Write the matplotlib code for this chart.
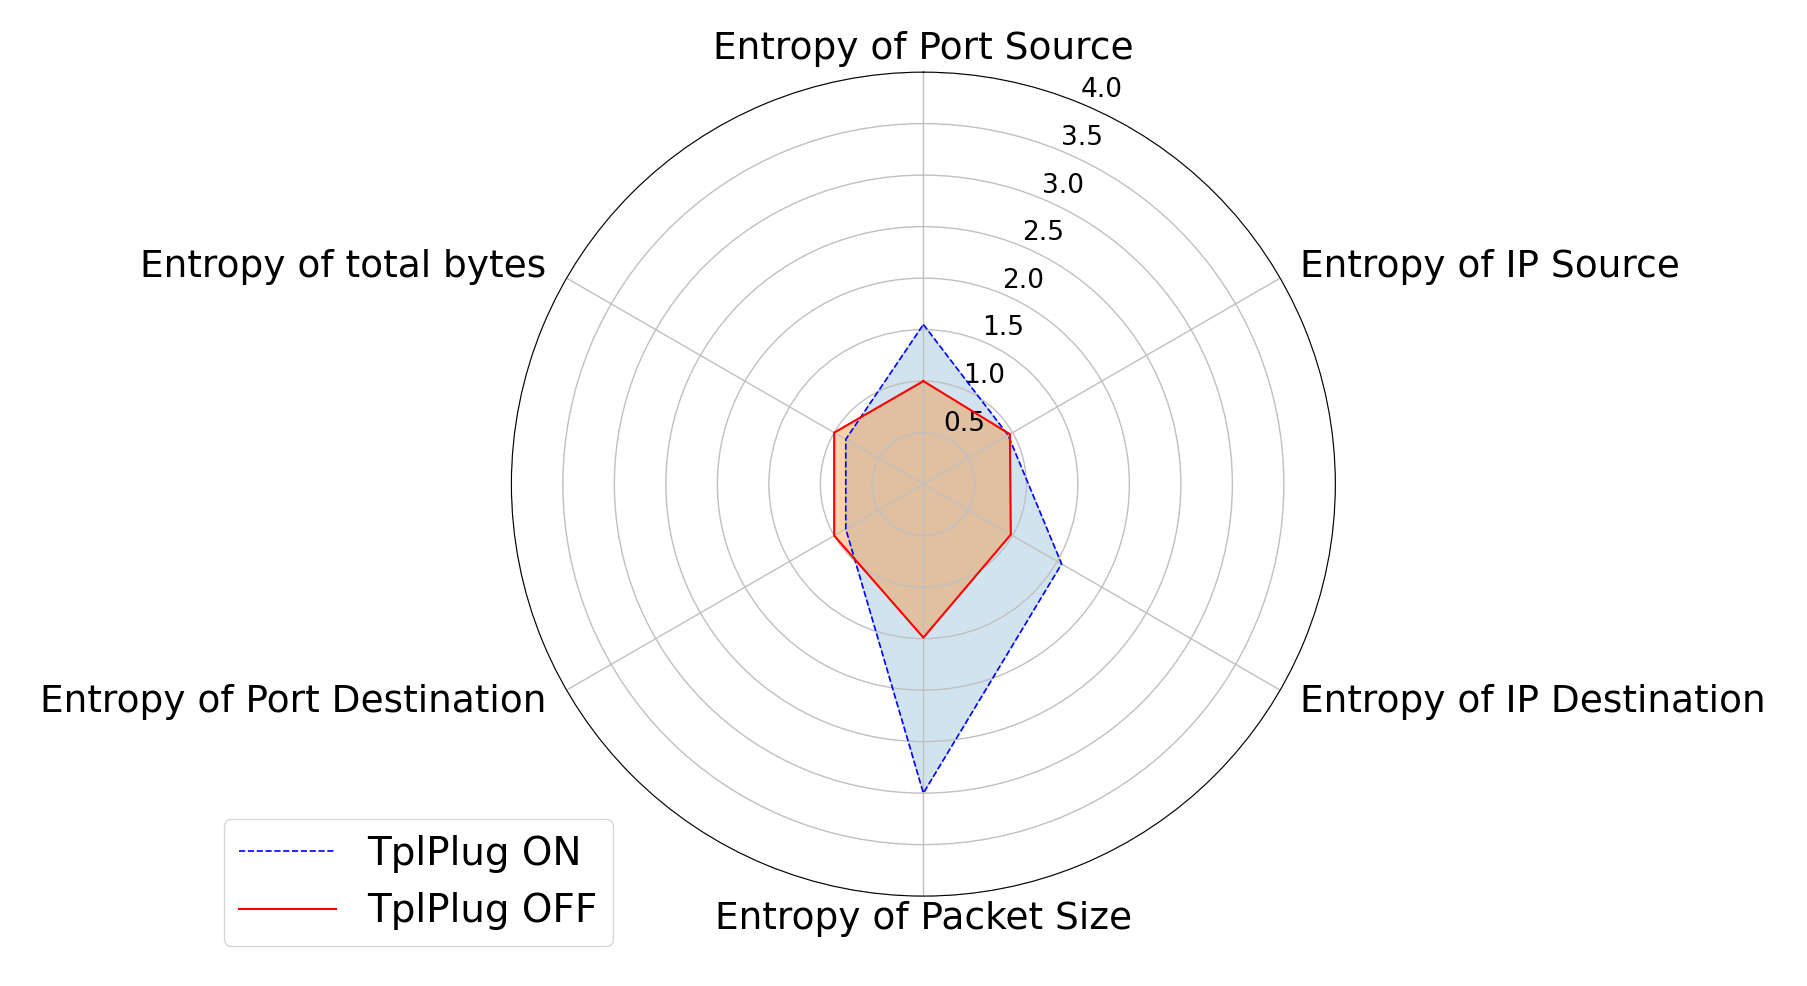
import numpy as np
import matplotlib
matplotlib.use("Agg")
import matplotlib.pyplot as plt

categories = ["Entropy of Port Source", "Entropy of IP Source", "Entropy of IP Destination",
              "Entropy of Packet Size", "Entropy of Port Destination", "Entropy of total bytes"]
on_vals = [1.55, 0.95, 1.55, 3.0, 0.87, 0.87]
off_vals = [1.0, 0.97, 0.98, 1.49, 1.0, 1.0]
rticks = [0.5, 1.0, 1.5, 2.0, 2.5, 3.0, 3.5, 4.0]

fig = plt.figure(figsize=(18.07, 9.86), dpi=100)
ax = fig.add_axes([0.283, 0.091, 0.456, 0.836], projection="polar")
ax.set_theta_offset(np.pi / 2)
ax.set_theta_direction(-1)
n = len(categories)
ang = np.linspace(0, 2 * np.pi, n, endpoint=False)
a = np.concatenate([ang, ang[:1]])
on = np.concatenate([on_vals, on_vals[:1]])
off = np.concatenate([off_vals, off_vals[:1]])

ax.plot(a, on, color="blue", linestyle="--", linewidth=1.2, label="TplPlug ON")
ax.fill(a, on, color="tab:blue", alpha=0.2)
ax.plot(a, off, color="red", linewidth=1.5, label="TplPlug OFF")
ax.fill(a, off, color="tab:orange", alpha=0.35)

ax.set_xticks(ang)
ax.set_xticklabels(categories, fontsize=27)
ax.tick_params(axis="x", pad=6)
for lab, t in zip(ax.get_xticklabels(), ang):
    s = np.sin(t)
    if abs(s) < 1e-6:
        lab.set_horizontalalignment("center")
    elif s > 0:
        lab.set_horizontalalignment("left")
    else:
        lab.set_horizontalalignment("right")
ax.set_ylim(0, 4.0)
ax.set_yticks(rticks)
ax.set_yticklabels([f"{t:.1f}" for t in rticks], fontsize=19)
ax.set_rlabel_position(22.5)
ax.grid(color="#c0c0c0", linewidth=1)

fig.legend(loc="lower left", bbox_to_anchor=(0.113, 0.021), fontsize=28, handlelength=2.5)
fig.savefig("out.png", dpi=100)
